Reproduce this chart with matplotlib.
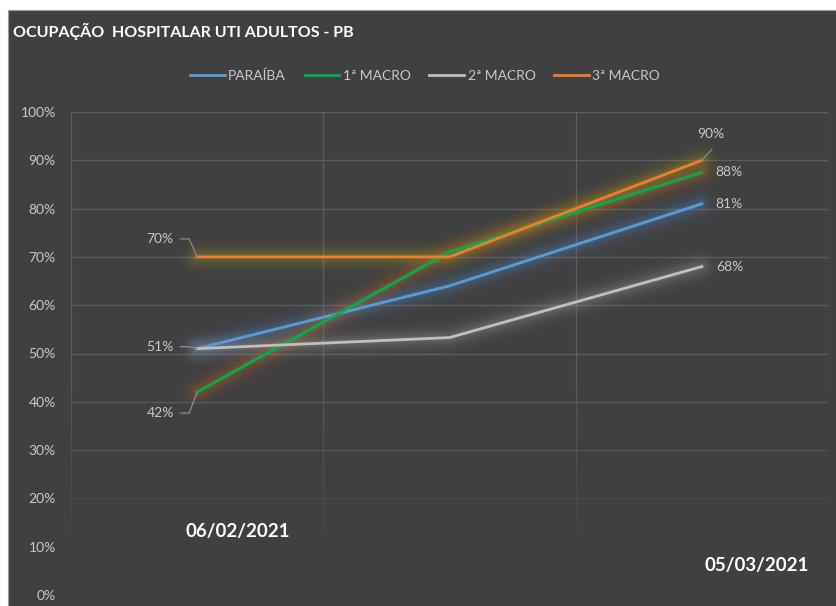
#!/usr/bin/env python3
"""
Ocupação hospitalar UTI adultos - PB (dark Excel-style line chart)
"""

import numpy as np
import matplotlib
matplotlib.use('Agg')
import matplotlib.pyplot as plt
from matplotlib.patches import Rectangle
from matplotlib.lines import Line2D
from matplotlib.transforms import IdentityTransform

# data
periods = ['06/02/2021', '', '05/03/2021']
series_names = ['PARAÍBA', '1ª MACRO', '2ª MACRO', '3ª MACRO']
paraiba = [0.51, 0.64, 0.81]
macro1 = [0.42, 0.71, 0.875]
macro2 = [0.51, 0.533, 0.68]
macro3 = [0.70, 0.70, 0.90]
start_labels = ['51%', '42%', '51%', '70%']
end_labels = ['81%', '88%', '68%', '90%']

line_colors = ['#5b9bd5', '#00b050', '#bfbfbf', '#ed7d31']
glow_colors = ['#4f86c0', '#c0692a', '#9a9a9a', '#b09a1c']

BG = '#404040'
TXT = '#c9c9c9'
FONT = 'Lato'

W, H = 837, 606
fig = plt.figure(figsize=(W / 100, H / 100), dpi=100, facecolor=BG)

# white margin strips at top and left (screenshot crop)
fig.add_artist(Rectangle((0, 1 - 10 / H), 1, 10 / H, transform=fig.transFigure,
                         facecolor='white', edgecolor='none', zorder=0))
fig.add_artist(Rectangle((0, 0), 8 / W, 1, transform=fig.transFigure,
                         facecolor='white', edgecolor='none', zorder=0))
fig.add_artist(Line2D([8 / W, 8 / W, 1], [0, 1 - 10 / H, 1 - 10 / H],
                      transform=fig.transFigure, color='#9a9a9a', lw=0.8))

ax = fig.add_axes([71 / W, 1 - 595 / H, (828 - 71) / W, (595 - 112) / H])
ax.set_facecolor(BG)
ax.set_xlim(-0.5, 2.5)
ax.set_ylim(0, 1)
for s in ax.spines.values():
    s.set_visible(False)

# gridlines fading toward the bottom
def grid_alpha(y):
    return 0.05 + 0.95 * min(1, max(0, (y - 0.08) / 0.4))

yt = np.arange(0, 1.01, 0.1)
for y in yt:
    ax.axhline(y, color='#5e5e5e', lw=1, alpha=grid_alpha(y), zorder=0)
ys = np.linspace(0, 1, 60)
for xv in [-0.5, 0.5, 1.5, 2.5]:
    for i in range(len(ys) - 1):
        ax.plot([xv, xv], [ys[i], ys[i + 1]], color='#5e5e5e', lw=1,
                alpha=grid_alpha(ys[i]), zorder=0, solid_capstyle='butt')

ax.set_yticks(yt)
ax.set_yticklabels([f'{int(round(v * 100))}%' for v in yt])
ax.set_xticks([])
ax.tick_params(axis='y', length=0, pad=11, labelcolor=TXT, labelsize=10)
for lab in ax.get_yticklabels():
    lab.set_fontfamily(FONT)

x = np.arange(len(periods))
all_series = [paraiba, macro1, macro2, macro3]

# glow
for vals, gc in zip(all_series, glow_colors):
    for lw, a in [(24, 0.04), (18, 0.06), (13, 0.08), (9, 0.11), (5, 0.14)]:
        ax.plot(x, vals, color=gc, lw=lw, alpha=a, solid_capstyle='round',
                solid_joinstyle='round', zorder=2)

handles = []
for vals, c, name in zip(all_series, line_colors, series_names):
    h, = ax.plot(x, vals, color=c, lw=2, zorder=3, label=name,
                 solid_joinstyle='round')
    handles.append(h)

fig.legend(handles=handles, loc='center', bbox_to_anchor=(425 / W, 1 - 76 / H),
           ncol=4, frameon=False, handlelength=2.5, handletextpad=0.25,
           columnspacing=1.35, prop={'family': FONT, 'size': 10},
           labelcolor=TXT)

fig.text(13 / W, 1 - 31 / H, 'OCUPAÇÃO  HOSPITALAR UTI ADULTOS - PB',
         color='white', fontsize=11.5, fontweight='bold', family=FONT,
         ha='left', va='center')

fig.canvas.draw()
to_px = ax.transData.transform


def leader(pts):
    xs = [p[0] for p in pts]
    ys_ = [p[1] for p in pts]
    fig.add_artist(Line2D(xs, ys_, transform=IdentityTransform(),
                          color='#8c8c8c', lw=0.9))


# start labels (left of first point, with leader lines)
start_dy = {0: 0, 1: -21, 2: None, 3: 18}
for k, (vals, lab) in enumerate(zip(all_series, start_labels)):
    if start_dy[k] is None:
        continue
    px, py = to_px((0, vals[0]))
    ty = py + start_dy[k] + (2 if k == 0 else 0)
    fig.text((px - 37) / W, ty / H, lab, color=TXT, fontsize=10, family=FONT,
             ha='center', va='center')
    leader([(px - 17, ty), (px - 8, ty), (px, py)])

# end labels
for k, (vals, lab) in enumerate(zip(all_series, end_labels)):
    px, py = to_px((2, vals[2]))
    if k == 3:
        fig.text((px + 9) / W, (py + 26) / H, lab, color=TXT, fontsize=10,
                 family=FONT, ha='center', va='center')
        leader([(px, py), (px + 10, py + 11)])
    else:
        fig.text((px + 14) / W, py / H, lab, color=TXT, fontsize=10,
                 family=FONT, ha='left', va='center')

# period labels
fig.text(238 / W, 1 - 531 / H, periods[0], color='white', fontsize=13.5,
         fontweight='bold', family=FONT, ha='center', va='center')
fig.text(757 / W, 1 - 566 / H, periods[2], color='white', fontsize=13.5,
         fontweight='bold', family=FONT, ha='center', va='center')

fig.savefig('out.png', dpi=100, facecolor=fig.get_facecolor())
